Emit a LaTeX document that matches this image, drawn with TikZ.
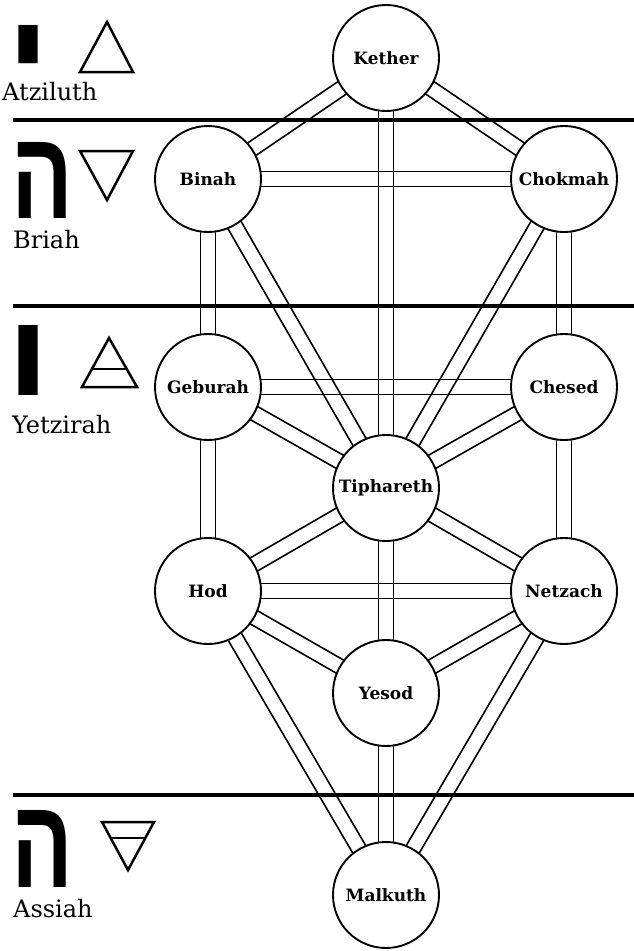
\documentclass[tikz,border=0pt]{standalone}
\usepackage{fontspec}
\setmainfont{DejaVu Serif}
\newfontfamily\hebfont[Script=Hebrew]{Liberation Sans}
\TeXXeTstate=1
\usetikzlibrary{calc,backgrounds}
\tikzset{
  sephirah/.style={circle, draw, line width=1.9pt, fill=white, minimum size=106pt,
    inner sep=0pt, font=\bfseries\fontsize{17}{17}\selectfont},
  worldline/.style={line width=4pt},
  element/.style={line width=2.5pt, line join=miter},
  worldlabel/.style={anchor=base west, inner sep=0pt, font=\fontsize{24}{24}\selectfont},
  letter/.style={anchor=north west, inner sep=0pt},
  chan/.style={line width=1.6pt},
}
\newcommand{\channel}[2]{%
  \draw[chan] ($(#1.center)!7.5pt!90:(#2.center)$) -- ($(#2.center)!7.5pt!-90:(#1.center)$);
  \draw[chan] ($(#1.center)!7.5pt!-90:(#2.center)$) -- ($(#2.center)!7.5pt!90:(#1.center)$);
}
\begin{document}
\begin{tikzpicture}[x=1pt,y=-1pt]
\useasboundingbox (0,0) rectangle (634,951);
% sephiroth
\node[sephirah] (kether)    at (386,58)  {Kether};
\node[sephirah] (binah)     at (208,179) {Binah};
\node[sephirah] (chokmah)   at (564,179) {Chokmah};
\node[sephirah] (geburah)   at (208,387) {Geburah};
\node[sephirah] (chesed)    at (564,387) {Chesed};
\node[sephirah] (tiphareth) at (386,488) {Tiphareth};
\node[sephirah] (hod)       at (208,591) {Hod};
\node[sephirah] (netzach)   at (564,591) {Netzach};
\node[sephirah] (yesod)     at (386,693) {Yesod};
\node[sephirah] (malkuth)   at (386,895) {Malkuth};
% paths
\begin{pgfonlayer}{background}
\channel{kether}{chokmah}
\channel{kether}{binah}
\channel{kether}{tiphareth}
\channel{chokmah}{binah}
\channel{chokmah}{tiphareth}
\channel{chokmah}{chesed}
\channel{binah}{tiphareth}
\channel{binah}{geburah}
\channel{chesed}{geburah}
\channel{chesed}{tiphareth}
\channel{chesed}{netzach}
\channel{geburah}{tiphareth}
\channel{geburah}{hod}
\channel{tiphareth}{netzach}
\channel{tiphareth}{yesod}
\channel{tiphareth}{hod}
\channel{netzach}{hod}
\channel{netzach}{yesod}
\channel{netzach}{malkuth}
\channel{hod}{yesod}
\channel{hod}{malkuth}
\channel{yesod}{malkuth}
\end{pgfonlayer}
% world dividers
\coordinate (l1a) at (13,120); \coordinate (l1b) at (634,120);
\coordinate (l2a) at (13,306); \coordinate (l2b) at (634,306);
\coordinate (l3a) at (13,795); \coordinate (l3b) at (634,795);
\draw[worldline] (l1a) -- (l1b);
\draw[worldline] (l2a) -- (l2b);
\draw[worldline] (l3a) -- (l3b);
% letters
\node[letter] (yod) at (6,25) {\resizebox{44pt}{72pt}{\hebfont\bfseries\beginR י\endR}};
\node[letter] (he1) at (11,142) {\resizebox{62pt}{76pt}{\hebfont\bfseries\beginR ה\endR}};
\node[letter] (vav) at (6,325) {\resizebox{44pt}{70pt}{\hebfont\bfseries\beginR ו\endR}};
\node[letter] (he2) at (11,810) {\resizebox{62pt}{77pt}{\hebfont\bfseries\beginR ה\endR}};
% elements
\draw[element] (107,22) -- (133,72) -- (80,72) -- cycle;
\draw[element] (80,151) -- (133,151) -- (107,200) -- cycle;
\draw[element] (109,338) -- (137,387) -- (82,387) -- cycle;
\draw[element] (91,369) -- (128,369);
\draw[element] (102,822) -- (154,822) -- (128,870) -- cycle;
\draw[element] (111,838) -- (145,838);
% labels
\node[worldlabel] (atz) at (2,100) {Atziluth};
\node[worldlabel] (bri) at (13,248) {Briah};
\node[worldlabel] (yet) at (12,433) {Yetzirah};
\node[worldlabel] (ass) at (13,917) {Assiah};
\end{tikzpicture}
\end{document}
